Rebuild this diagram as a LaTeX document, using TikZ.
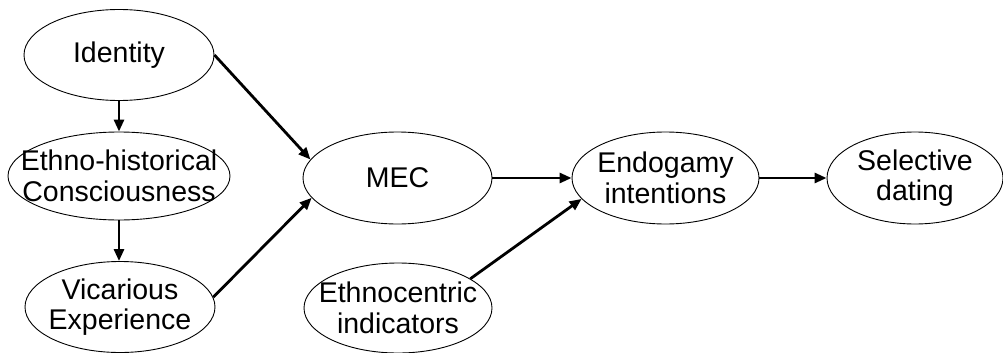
\documentclass[tikz,border=0pt]{standalone}
\usepackage{fontspec}
\setmainfont{Liberation Sans}
\usetikzlibrary{shapes.geometric,arrows.meta}
\tikzset{
  ov/.style={draw=black, line width=0.9pt, ellipse, inner sep=0pt, minimum width=190pt, minimum height=91pt},
  lbl/.style={align=center, inner sep=0pt, font=\fontsize{28.5pt}{30.5pt}\selectfont},
  arr/.style={line width=2.8pt, -{Triangle[length=12pt,width=10pt]}}
}
\begin{document}
\begin{tikzpicture}[x=1pt,y=-1pt]
\useasboundingbox (0,0) rectangle (1003,353);
\node[ov] (identity) at (119,55) {};
\node[ov, minimum width=222pt, minimum height=88pt] (ethno) at (119,176) {};
\node[ov] (vicar) at (120,307) {};
\node[ov, minimum width=189pt, minimum height=92pt] (mec) at (397.5,178) {};
\node[ov, minimum width=187pt, minimum height=92pt] (endo) at (665.5,178) {};
\node[ov, minimum width=176pt, minimum height=92pt] (sel) at (915,178) {};
\node[ov, minimum width=188pt, minimum height=90pt] (ethc) at (398,308) {};
\node[lbl] (identity-t) at (identity) {Identity};
\node[lbl] (ethno-t) at (ethno) {Ethno-historical\\Consciousness};
\node[lbl] (vicar-t) at (vicar) {Vicarious\\Experience};
\node[lbl] (mec-t) at (mec) {MEC};
\node[lbl] (endo-t) at (endo) {Endogamy\\intentions};
\node[lbl] (sel-t) at (sel) {Selective\\dating};
\node[lbl] (ethc-t) at (ethc) {Ethnocentric\\indicators};
\draw[arr] (identity.south) -- (ethno.north);
\draw[arr] (ethno.south) -- (ethno.south |- vicar.north);
\draw[arr] (identity.east) -- (mec.168);
\draw[arr] (vicar.6) -- (mec.193);
\draw[arr] (mec.east) -- (endo.west);
\draw[arr] (endo.east) -- (sel.west);
\draw[arr] (ethc.22) -- (endo.194);
\end{tikzpicture}
\end{document}
